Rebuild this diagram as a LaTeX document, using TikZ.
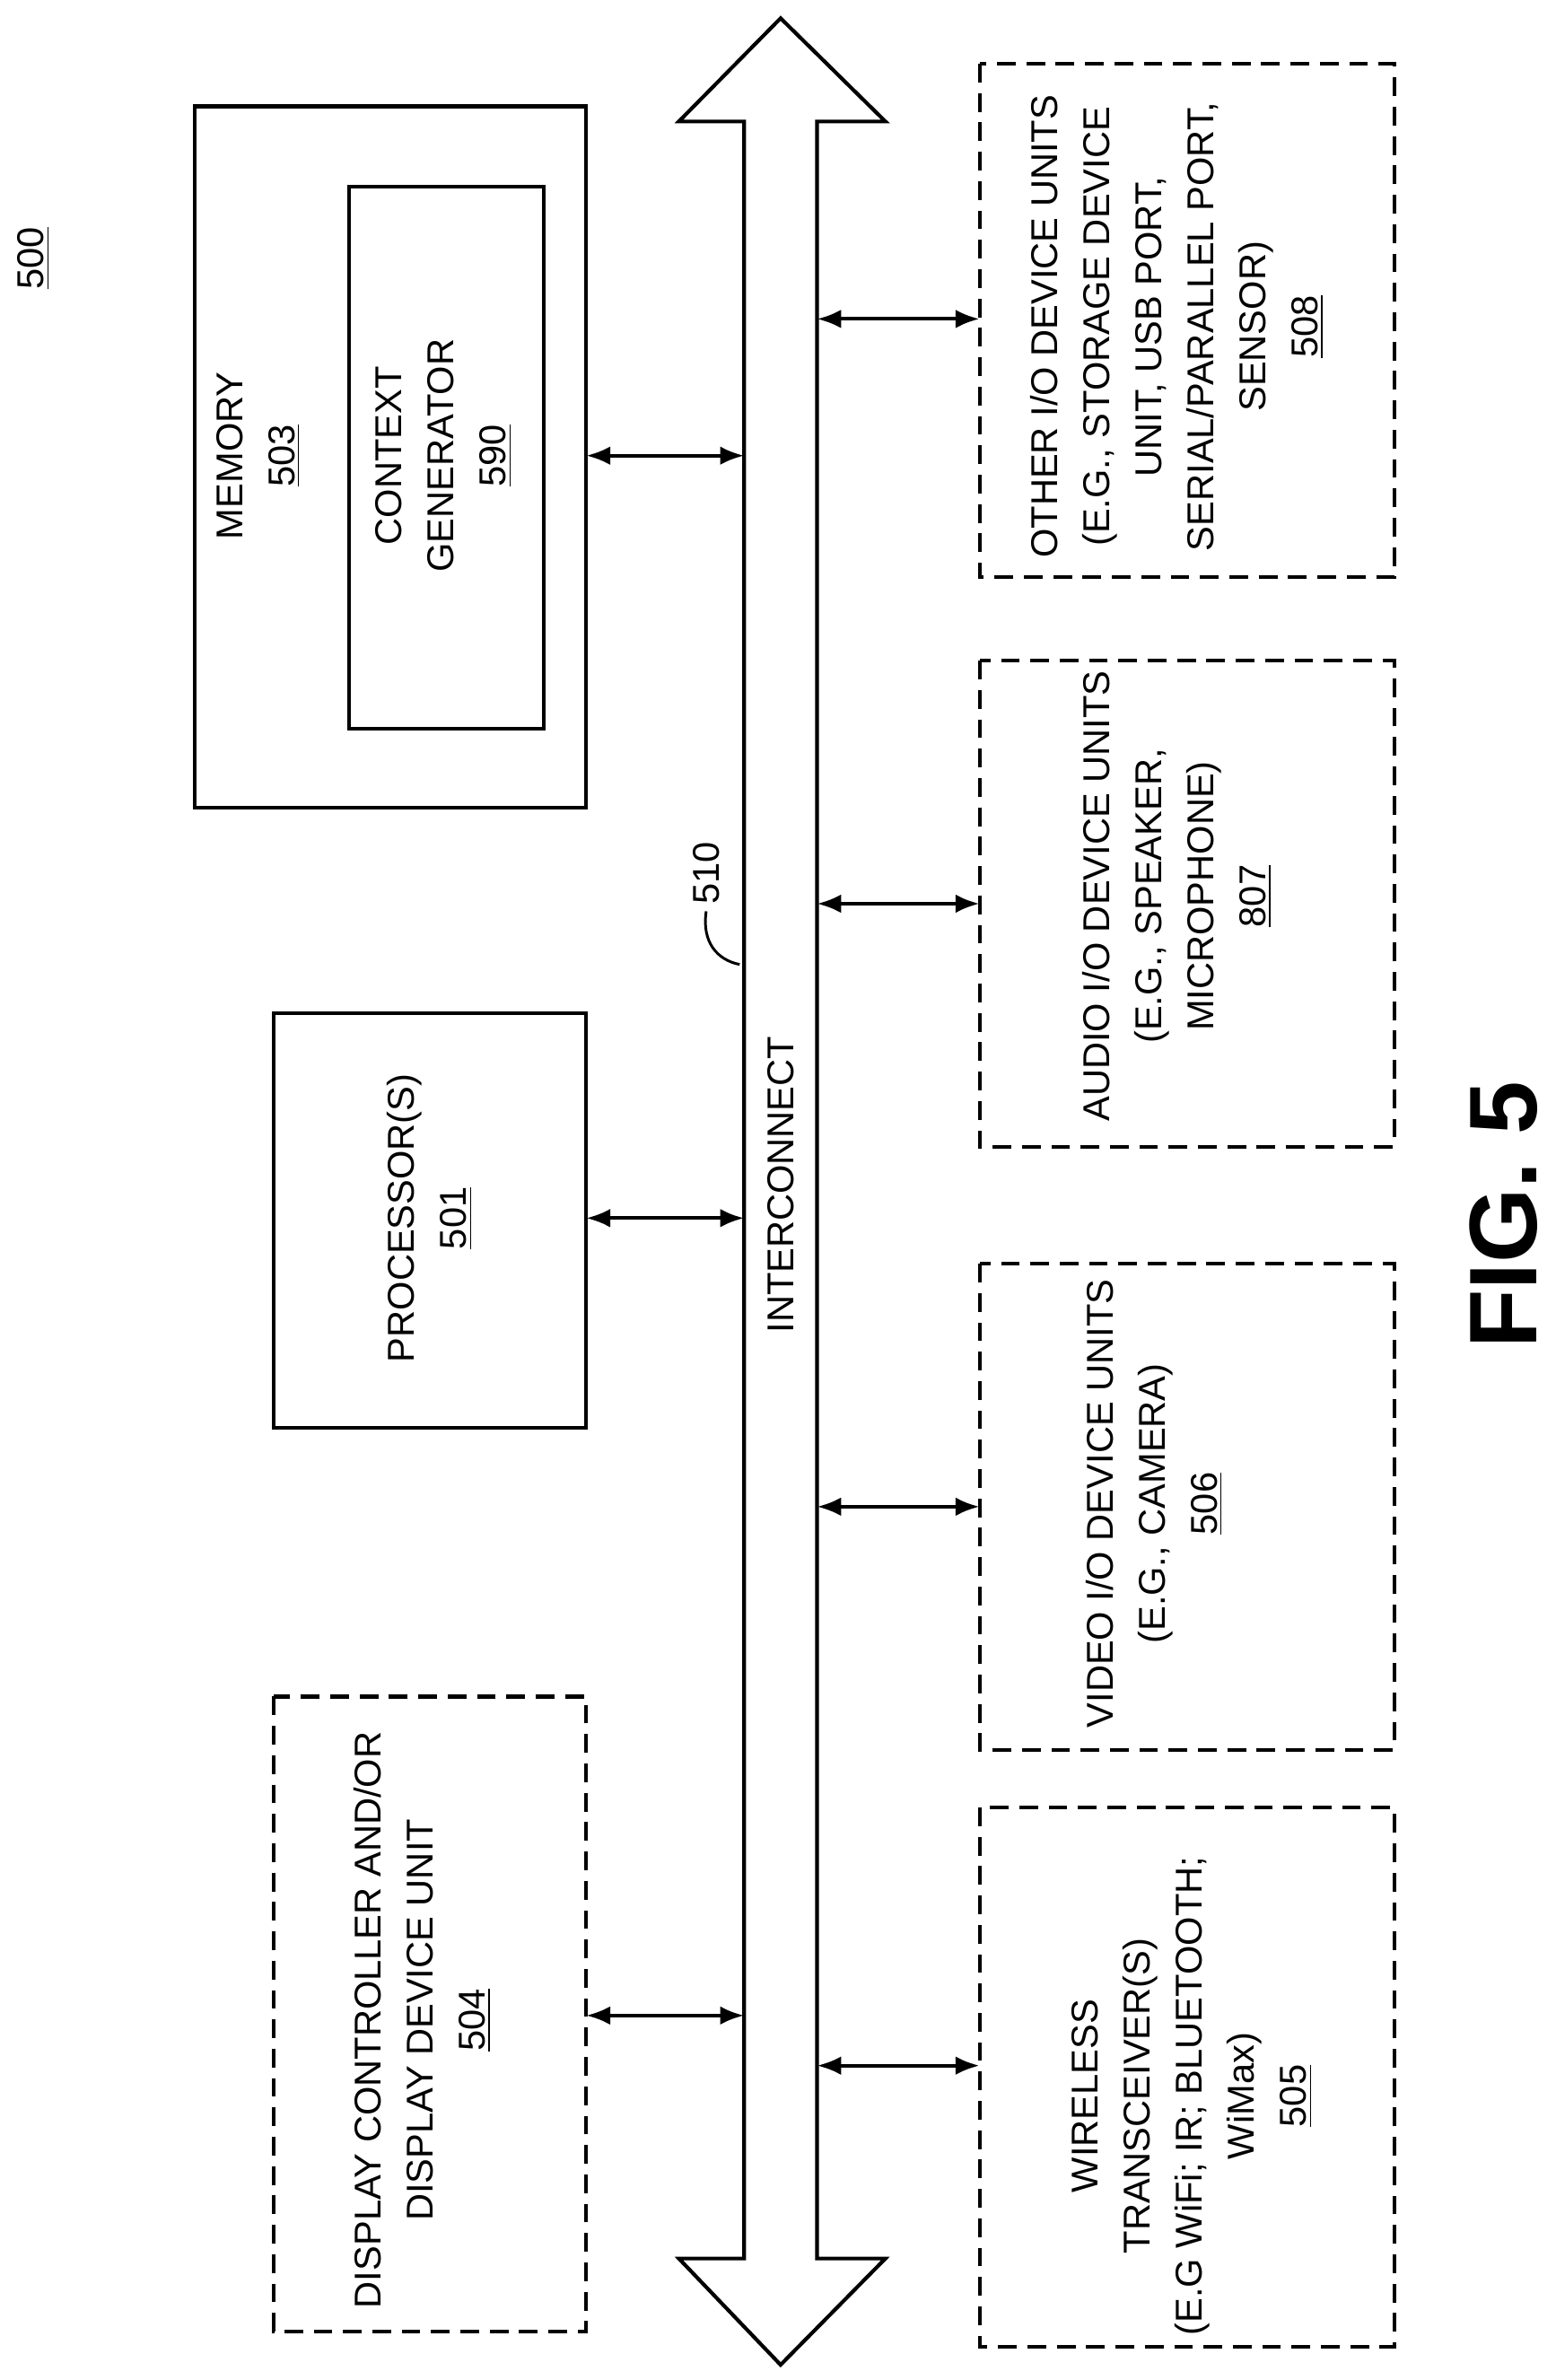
\documentclass[tikz,border=0pt]{standalone}
\usepackage{fontspec}
\setmainfont{Liberation Sans}
\usetikzlibrary{arrows.meta}
\begin{document}
\begin{tikzpicture}[x=0.02cm,y=-0.02cm,line width=1.4pt,
  box/.style={draw,solid},
  dbox/.style={draw,dash pattern=on 7pt off 4pt},
  txt/.style={rotate=90,align=center,font=\fontsize{14}{19.5}\selectfont},
  conn/.style={{Latex[length=9pt,width=7pt]}-{Latex[length=9pt,width=7pt]},line width=1.4pt}]
\useasboundingbox (0,0) rectangle (1024,1567);
\node[txt] (n500) at (22,170) {\underline{500}};
\draw[box] (128,70) rectangle (386,532);
\draw[box] (230,123) rectangle (358,480);
\node[txt] (mem) at (170,300) {MEMORY\\\underline{503}};
\node[txt] (cg) at (292,300) {CONTEXT\\GENERATOR\\\underline{590}};
\draw[box] (180,667) rectangle (386,940);
\node[txt] (proc) at (283,802) {PROCESSOR(S)\\\underline{501}};
\draw[dbox] (180,1117) rectangle (386,1535);
\node[txt] (disp) at (278,1330) {DISPLAY CONTROLLER AND/OR\\DISPLAY DEVICE UNIT\\\underline{504}};
\draw (490,80) -- (447,80) -- (514,12) -- (583,80) -- (538,80) -- (538,1487) -- (583,1487) -- (514,1557) -- (447,1487) -- (490,1487) -- cycle;
\node[txt] (ic) at (514,780) {INTERCONNECT};
\node[txt] (n510) at (465,575) {510};
\draw[line width=1pt] (487,635) .. controls (472,632) and (462,620) .. (465,600);
\coordinate (bl1) at (490,300); \coordinate (bl2) at (490,802); \coordinate (bl3) at (490,1327);
\coordinate (br1) at (538,210); \coordinate (br2) at (538,595); \coordinate (br3) at (538,992); \coordinate (br4) at (538,1360);
\coordinate (m) at (386,300); \coordinate (p) at (386,802); \coordinate (d) at (386,1327);
\coordinate (o) at (645,210); \coordinate (a) at (645,595); \coordinate (v) at (645,992); \coordinate (w) at (645,1360);
\draw[conn] (m) -- (bl1); \draw[conn] (p) -- (bl2); \draw[conn] (d) -- (bl3);
\draw[conn] (br1) -- (o); \draw[conn] (br2) -- (a); \draw[conn] (br3) -- (v); \draw[conn] (br4) -- (w);
\draw[dbox] (645,42) rectangle (918,380);
\node[txt] (oth) at (775,215) {OTHER I/O DEVICE UNITS\\(E.G., STORAGE DEVICE\\UNIT, USB PORT,\\SERIAL/PARALLEL PORT,\\SENSOR)\\\underline{508}};
\draw[dbox] (645,435) rectangle (918,755);
\node[txt] (aud) at (775,590) {AUDIO I/O DEVICE UNITS\\(E.G., SPEAKER,\\MICROPHONE)\\\underline{807}};
\draw[dbox] (645,832) rectangle (918,1152);
\node[txt] (vid) at (760,990) {VIDEO I/O DEVICE UNITS\\(E.G., CAMERA)\\\underline{506}};
\draw[dbox] (645,1190) rectangle (918,1545);
\node[txt] (wir) at (785,1380) {WIRELESS\\TRANSCEIVER(S)\\(E.G WiFi; IR; BLUETOOTH;\\WiMax)\\\underline{505}};
\node[rotate=90,font=\fontsize{36}{40}\selectfont\bfseries] (fig) at (990,800) {FIG. 5};
\end{tikzpicture}
\end{document}
